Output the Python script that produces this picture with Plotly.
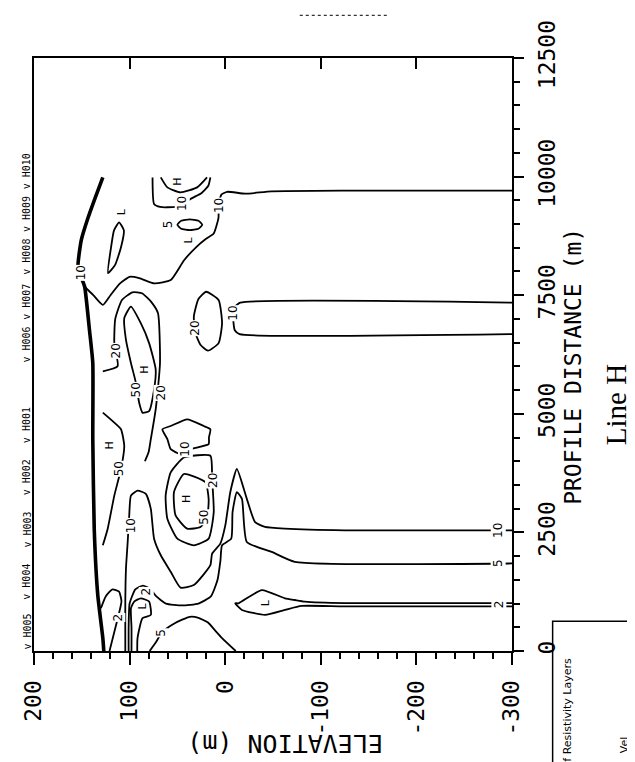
import plotly.graph_objects as go

# ---------------- axis data ----------------
elev_ticks = [200, 100, 0, -100, -200, -300]
elev_ticklabels = ["200", "100", "0", "-100", "-200", "-300"]
dist_ticks = [0, 2500, 5000, 7500, 10000, 12500]
dist_ticklabels = ["0", "2500", "5000", "7500", "10000", "12500"]
top_tick_elev = [100, 0, -100, -200]

# wells along the profile (distance m)
well_names = ["H005", "H004", "H003", "H002", "H001", "H006", "H007", "H008", "H009", "H010"]
well_dist = [0, 1050, 2150, 3250, 4350, 6050, 6950, 7900, 8800, 9700]

# ---------------- contour lines (elevation m, distance m) ----------------
surface_E = [128, 136, 144, 150.6, 154, 150, 147, 142, 138.5, 138.5, 137, 133.3, 128, 127]
surface_D = [9983, 9550, 9100, 8657, 8097, 7850, 7678, 6770, 6072, 4465, 2578, 1180, 272, 0]

c10_top_E = [-300, -124.8, -48.6, -20.9, -2, 4, 7, 7, 12, 20, 30, 43, 57, 74, 90, 100, 110, 120, 128, 138, 147]
c10_top_D = [9705, 9705, 9690, 9640, 9680, 9620, 9390, 9136, 8800, 8690, 8520, 8237, 7818, 7748, 7860, 7888, 7748, 7500, 7294, 7500, 7678]

c10_cap_E = [76, 74.4, 68, 60.5, 45, 36.3, 25, 17.6, 15.5]
c10_cap_D = [9983, 9424, 9360, 9354, 9380, 9528, 9650, 9808, 9983]

c20_cap_E = [67.4, 60.5, 46.7, 29.3, 19]
c20_cap_D = [9983, 9773, 9668, 9773, 9983]

c5_oval_E = [50, 46, 37, 28, 24, 28, 37, 46, 50]
c5_oval_D = [8985, 9070, 9100, 9070, 8985, 8900, 8870, 8900, 8985]

c5_narrow_E = [111, 116.3, 119.4, 122.6, 115.3, 109, 106, 111]
c5_narrow_D = [9034, 8866, 8510, 7965, 8133, 8510, 8866, 9034]

c20_arch_E = [128, 112.5, 116, 115, 108, 97, 87, 77, 70.3, 68.2, 72.7, 77.8, 80, 84]
c20_arch_D = [5896, 6001, 6490, 7000, 7400, 7560, 7540, 7350, 7120, 6072, 5093, 4465, 4200, 4000]

c50_long_E = [98.6, 105.6, 103.8, 98.6, 93.4, 90, 86.5, 79.6, 74.4, 72.7, 79.6, 88.3, 98.6]
c50_long_D = [7259, 7015, 6560, 6072, 5652, 5233, 5024, 5058, 5512, 5932, 6490, 6910, 7259]

c20_oval_E = [20, 28, 32.8, 31.1, 25.9, 18, 6.9, 3.3, 6.9, 20]
c20_oval_D = [7573, 7420, 7049, 6700, 6455, 6330, 6490, 6910, 7399, 7573]

c10_band_E = [-300, -15.7, -10, -8.4, -10, -15, -300]
c10_band_D = [7343, 7343, 7250, 7000, 6760, 6680, 6680]

c50_edge_E = [128, 118, 109, 105.6, 109, 116, 122.9, 128]
c50_edge_D = [5024, 4850, 4674, 4324, 3836, 3276, 2578, 2228]

c10_small_E = [65.7, 57, 39.7, 22.5, 15.5, 17, 17.3, 36.3, 46.7, 57, 60.5, 65.7]
c10_small_D = [4674, 4743, 4884, 4743, 4674, 4500, 4360, 4255, 4150, 4255, 4465, 4674]

c20_ring_E = [15.5, 43.2, 57, 62.3, 60.5, 50.1, 32.8, 17.3, 12, 13.7, 15.5]
c20_ring_D = [4115, 4080, 3766, 3276, 2788, 2368, 2228, 2368, 2928, 3626, 4115]

c50_ring_E = [20.7, 43.2, 53.6, 51.9, 39.7, 25.9, 19, 17.3, 20.7]
c50_ring_D = [3557, 3731, 3347, 2857, 2578, 2614, 2800, 3200, 3557]

c10_main_E = [-300, -124.8, -62.4, -41.6, -31.2, -22.6, -12.2, -5.3, -0.1, 5.1, 13.7, 15.5, 32.8, 46.7, 57,
              67.4, 74.4, 77.8, 83, 91.7, 98.6, 100.4, 102, 103.8, 104.5, 104.5, 104.5]
c10_main_D = [2543, 2543, 2578, 2614, 2718, 3207, 3836, 3347, 2647, 2264, 2054, 1810, 1390, 1335, 1670,
              2018, 2368, 2997, 3312, 3381, 3276, 2857, 2298, 1740, 1042, 272, 0]

c5_main_E = [-300, -72.8, -48.6, -22.6, -17.5, -12.2, -7.7, -6.3, 3.3, 5, 8, 15, 28, 45, 62, 72, 78, 86, 94, 100, 101, 101]
c5_main_D = [1845, 1880, 2089, 2299, 3207, 3347, 2927, 2368, 2228, 1900, 1500, 1150, 1000, 960, 1000, 1150, 1300, 1380, 1300, 1000, 500, 0]

c2_finger_E = [92, 91.7, 86.5, 77.8, 79.6, 88.3, 95.2, 98.6, 98, 98]
c2_finger_D = [0, 272, 692, 761, 1042, 1111, 1042, 901, 500, 0]

c2_surface_E = [121, 116, 111, 108.5, 111, 118, 125, 130]
c2_surface_D = [0, 400, 800, 1050, 1250, 1300, 1150, 900]

c5_hump_E = [79, 72, 66, 55, 45, 37, 28, 18, 10, 3.3, -11]
c5_hump_D = [0, 200, 400, 560, 660, 720, 700, 600, 420, 272, 0]

c2_tongue_E = [-300, -124.8, -83.3, -72.9, -62.5, -38.3, -13.9, -10.5, -17.5, -41.7, -62.5, -79.8, -124.8, -300]
c2_tongue_D = [1010, 1010, 1042, 1075, 1111, 1285, 1006, 1006, 866, 761, 866, 950, 940, 940]

thin_lines = [
    (c10_top_E, c10_top_D), (c10_cap_E, c10_cap_D), (c20_cap_E, c20_cap_D), (c5_oval_E, c5_oval_D),
    (c5_narrow_E, c5_narrow_D), (c20_arch_E, c20_arch_D), (c50_long_E, c50_long_D),
    (c20_oval_E, c20_oval_D), (c10_band_E, c10_band_D), (c50_edge_E, c50_edge_D),
    (c10_small_E, c10_small_D), (c20_ring_E, c20_ring_D), (c50_ring_E, c50_ring_D),
    (c10_main_E, c10_main_D), (c5_main_E, c5_main_D), (c2_finger_E, c2_finger_D),
    (c2_surface_E, c2_surface_D), (c5_hump_E, c5_hump_D), (c2_tongue_E, c2_tongue_D),
]

# contour labels and high/low markers (text, elevation, distance)
contour_labels = [
    ("10", 150.6, 7965), ("10", 7, 9390), ("10", 45, 9424), ("5", 60.5, 9005),
    ("20", 114.2, 6315), ("20", 67.5, 5443), ("50", 93.4, 5512), ("20", 31.1, 6805),
    ("10", -8.7, 7120), ("50", 110.8, 3836), ("10", 98.6, 2647), ("10", 41.5, 4255),
    ("20", 13, 3600), ("50", 22.5, 2823), ("5", 67.5, 377), ("2", 112.5, 700), ("2", 83, 1252),
    ("10", -286, 2543), ("5", -286, 1845), ("2", -286, 975),
]
marker_labels = [
    ("H", 50, 9900), ("H", 84.8, 5932), ("H", 121, 4324), ("H", 39.7, 3207),
    ("L", 109, 9250), ("L", 38, 8670), ("L", -41.7, 1006), ("L", 86.5, 950),
]

fig = go.Figure()

fig.add_trace(go.Scatter(x=surface_E, y=surface_D, mode="lines",
                         line=dict(color="black", width=3.6, shape="spline", smoothing=0.5),
                         hoverinfo="skip", showlegend=False))
for ex, dy in thin_lines:
    fig.add_trace(go.Scatter(x=ex, y=dy, mode="lines",
                             line=dict(color="black", width=1.8, shape="spline", smoothing=0.5),
                             hoverinfo="skip", showlegend=False))
# invisible trace for the top (inward tick) axis
fig.add_trace(go.Scatter(x=[None], y=[None], xaxis="x2", yaxis="y", showlegend=False))

mono = "DejaVu Sans Mono"
for txt, ex, dy in contour_labels:
    fig.add_annotation(x=ex, y=dy, xref="x", yref="y", text=txt, showarrow=False, textangle=-90,
                       xanchor="center", yanchor="middle",
                       font=dict(family="DejaVu Sans", size=12, color="black"),
                       bgcolor="white", borderpad=0)
for txt, ex, dy in marker_labels:
    fig.add_annotation(x=ex, y=dy, xref="x", yref="y", text=txt, showarrow=False, textangle=-90,
                       xanchor="center", yanchor="middle",
                       font=dict(family="DejaVu Sans", size=11, color="black"), borderpad=0)

for name, dy in zip(well_names, well_dist):
    fig.add_annotation(x=0, xref="paper", xanchor="right", xshift=-1, y=dy, yref="y", yanchor="bottom",
                       text="v " + name, showarrow=False, textangle=-90,
                       font=dict(family=mono, size=10, color="black"), borderpad=0)

# axis titles
fig.add_annotation(x=0.524, y=-0.185, xref="paper", yref="paper", text="ELEVATION (m)", showarrow=False,
                   textangle=180, font=dict(family=mono, size=25, color="black"))
fig.add_annotation(x=1.16, y=6000, xref="paper", yref="y", text="PROFILE DISTANCE (m)", showarrow=False,
                   textangle=-90, font=dict(family=mono, size=23, color="black"))
fig.add_annotation(x=1.255, y=5200, xref="paper", yref="y", text="Line H", showarrow=False,
                   textangle=-90, font=dict(family="Liberation Serif", size=29, color="black"))

# scan artefact above the frame
fig.add_shape(type="line", xref="paper", yref="paper", x0=0.556, x1=0.743, y0=1.072, y1=1.072,
              line=dict(color="black", width=1, dash="dot"))

# partial neighbouring panel (bottom right)
fig.add_shape(type="rect", xref="paper", yref="paper", x0=1.085, x1=1.35, y0=-0.35, y1=0.05,
              line=dict(color="black", width=1.5))
fig.add_annotation(x=1.135, y=-0.19, xref="paper", yref="paper", text="f Resistivity Layers",
                   showarrow=False, textangle=-90, font=dict(family="DejaVu Sans", size=11, color="black"))
fig.add_annotation(x=1.252, y=-0.175, xref="paper", yref="paper", text="Vel", showarrow=False,
                   textangle=-90, font=dict(family="DejaVu Sans", size=11, color="black"))

fig.update_layout(
    width=635, height=762,
    margin=dict(l=22, r=131, t=47, b=119),
    paper_bgcolor="white", plot_bgcolor="white",
    xaxis=dict(range=[200, -300], tickvals=elev_ticks, ticktext=elev_ticklabels, tickangle=-90,
               ticks="outside", ticklen=12, tickwidth=2, tickcolor="black",
               minor=dict(dtick=20, ticks="outside", ticklen=6, tickwidth=1.5, tickcolor="black"),
               showline=True, linewidth=2, linecolor="black", mirror=True,
               showgrid=False, zeroline=False,
               tickfont=dict(family=mono, size=23, color="black"), ticklabelstandoff=6),
    xaxis2=dict(range=[200, -300], overlaying="x", side="top", tickvals=top_tick_elev,
                ticks="inside", ticklen=11, tickwidth=2, tickcolor="black",
                showticklabels=False, showline=False, showgrid=False, zeroline=False),
    yaxis=dict(range=[0, 12500], side="right", tickvals=dist_ticks, ticktext=dist_ticklabels, tickangle=-90,
               ticks="outside", ticklen=10, tickwidth=2, tickcolor="black",
               minor=dict(dtick=500, ticks="outside", ticklen=6, tickwidth=1.5, tickcolor="black"),
               showline=True, linewidth=2, linecolor="black", mirror=True,
               showgrid=False, zeroline=False,
               tickfont=dict(family=mono, size=23, color="black"), ticklabelstandoff=3),
)

fig.write_html("out.html")
